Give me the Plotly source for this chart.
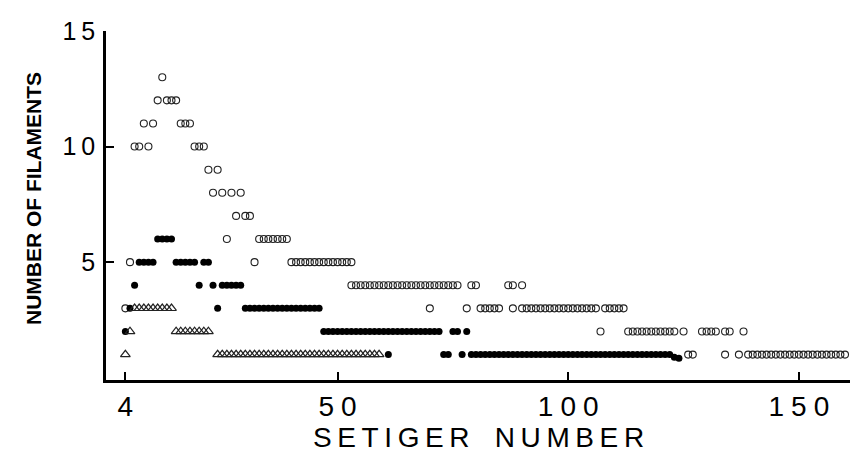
import plotly.graph_objects as go

# ---- data ----
# open circles
open_y13 = [12]
open_y12 = [11, 13, 14, 15]
open_y11 = [8, 10, 16, 17, 18]
open_y10 = [6, 7, 9, 19, 20, 21]
open_y9 = [22, 24]
open_y8 = [23, 25, 27, 29]
open_y7 = [28, 30, 31]
open_y6 = [26, 33, 34, 35, 36, 37, 38, 39]
open_y5 = [5, 32] + list(range(40, 54))
open_y4 = list(range(53, 77)) + [79, 80, 87, 88, 90]
open_y3 = [4, 70, 78, 81, 82, 83, 84, 85, 88] + list(range(90, 107)) + [108, 109, 110, 111, 112]
open_y2 = [107] + list(range(113, 124)) + [125, 129, 130, 131, 132, 134, 135, 138]
open_y1 = [126, 127, 134, 137] + list(range(139, 161))

# filled circles
fill_y6 = [11, 12, 13, 14]
fill_y5 = [7, 8, 9, 10, 15, 16, 17, 18, 19, 21, 22]
fill_y4 = [6, 20, 23, 25, 26, 27, 28, 29]
fill_y3 = [5, 24] + list(range(30, 47))
fill_y2 = [4] + list(range(47, 73)) + [75, 76, 78]
fill_y1 = [61, 73, 74, 77] + list(range(79, 123))
fill_low_x = [123, 124]
fill_low_y = [0.88, 0.84]

# triangles
tri_y3 = list(range(6, 15))
tri_y2 = [5] + list(range(15, 23))
tri_y1 = [4] + list(range(24, 60))

x_ticks = [4, 50, 100, 150]
x_tick_text = ["4", "5\u20050", "1\u20050\u20050", "1\u20055\u20050"]
y_ticks = [5, 10, 15]
y_tick_text = ["5", "1\u20090", "1\u20095"]
x_title = "S\u2009E\u2009T\u2009I\u2009G\u2009E\u2009R\u2002\u2009\u2009N\u2009U\u2009M\u2009B\u2009E\u2009R"
y_title = "NUMBER OF FILAMENTS"


def stack(rows):
    xs, ys = [], []
    for yv, xl in rows:
        xs += xl
        ys += [yv] * len(xl)
    return xs, ys


ox, oy = stack([(13, open_y13), (12, open_y12), (11, open_y11), (10, open_y10),
                (9, open_y9), (8, open_y8), (7, open_y7), (6, open_y6),
                (5, open_y5), (4, open_y4), (3, open_y3), (2, open_y2), (1, open_y1)])
fx, fy = stack([(6, fill_y6), (5, fill_y5), (4, fill_y4), (3, fill_y3),
                (2, fill_y2), (1, fill_y1)])
fx += fill_low_x
fy += fill_low_y
tx, ty = stack([(3, tri_y3), (2, tri_y2), (1, tri_y1)])

fig = go.Figure()
fig.add_trace(go.Scatter(x=ox, y=oy, mode="markers",
                         marker=dict(symbol="circle-open", size=7, color="#222",
                                     line=dict(width=1.1)),
                         showlegend=False))
fig.add_trace(go.Scatter(x=fx, y=fy, mode="markers",
                         marker=dict(symbol="circle", size=7, color="black",
                                     line=dict(width=0)),
                         showlegend=False))
fig.add_trace(go.Scatter(x=tx, y=ty, mode="markers",
                         marker=dict(symbol="triangle-up-open", size=8.5, color="#222",
                                     line=dict(width=1.2)),
                         showlegend=False))

font_family = "Liberation Sans, Arial, sans-serif"
fig.update_layout(
    width=858, height=452,
    margin=dict(l=98, r=15, t=23, b=80),
    plot_bgcolor="white", paper_bgcolor="white",
    font=dict(family=font_family, color="black"),
    xaxis=dict(range=[-0.2, 161.3], showgrid=False, zeroline=False, automargin=False,
               showline=True, linecolor="black", linewidth=2.5,
               ticks="inside", ticklen=8, tickwidth=2, tickcolor="black",
               tickvals=x_ticks, ticktext=x_tick_text,
               tickfont=dict(size=28, family=font_family)),
    yaxis=dict(range=[-0.1, 15], showgrid=False, zeroline=False, automargin=False,
               showline=True, linecolor="black", linewidth=2.5,
               ticks="inside", ticklen=8, tickwidth=2, tickcolor="black",
               tickvals=y_ticks, ticktext=y_tick_text, ticklabelstandoff=3,
               tickfont=dict(size=25, family=font_family)),
    annotations=[
        dict(text=x_title, xref="paper", yref="paper", x=0.5, y=-0.165,
             xanchor="center", yanchor="middle", showarrow=False,
             font=dict(size=28, family=font_family)),
        dict(text="<b>" + y_title + "</b>", xref="paper", yref="paper",
             x=-0.0973, y=0.52, xanchor="center", yanchor="middle",
             textangle=-90, showarrow=False,
             font=dict(size=21, family=font_family)),
    ],
)

fig.write_html("out.html")
